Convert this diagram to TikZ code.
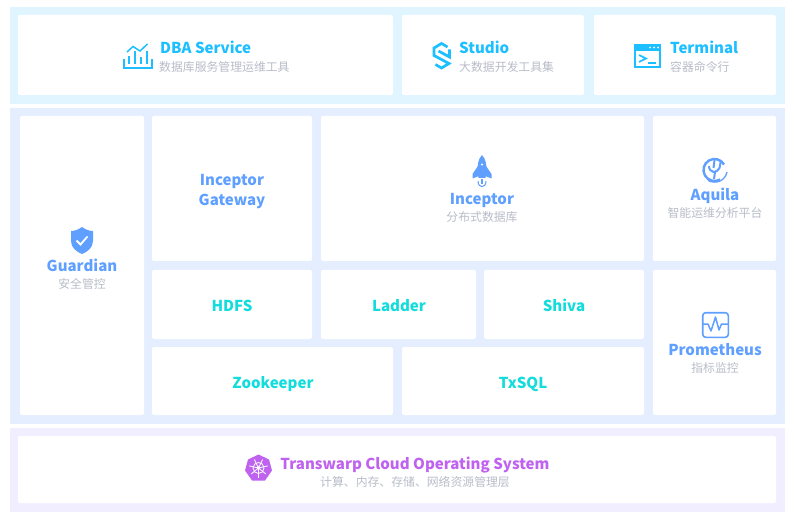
\documentclass[tikz,border=0pt]{standalone}
\usepackage{fontspec}
\setmainfont{Noto Sans CJK SC}
\usetikzlibrary{calc}
\definecolor{bandTop}{HTML}{E0F5FF}
\definecolor{bandMid}{HTML}{E4EEFF}
\definecolor{bandLow}{HTML}{F1EFFF}
\definecolor{skyText}{HTML}{1CBFFF}
\definecolor{blueText}{HTML}{5F9FFF}
\definecolor{tealText}{HTML}{12DCDC}
\definecolor{purpleText}{HTML}{BF62F0}
\definecolor{greyText}{HTML}{B9BDC9}
\tikzset{
 band/.style={fill=#1, draw=none},
 card/.style={fill=white, draw=none, rounded corners=2},
 title/.style={font=\fontsize{15.05}{15}\selectfont\bfseries, inner sep=0, text=#1, anchor=base},
 subtitle/.style={font=\fontsize{11.85}{12}\selectfont, inner sep=0, text=greyText, anchor=base},
}
\begin{document}
\begin{tikzpicture}[x=1pt,y=-1pt]
\useasboundingbox (0,0) rectangle (794,518);
% background bands
\fill[band=bandTop] (10,7) rectangle (785,104);
\fill[band=bandMid] (10,108) rectangle (785,424);
\fill[band=bandLow] (10,428) rectangle (785,512);
% cards
\foreach \xa/\ya/\xb/\yb in {18/15/393/95, 402/15/584/95, 594/15/776/95,
  20/116/144/415, 152/116/312/261, 321/116/644/261, 653/116/776/261,
  152/270/312/339, 321/270/476/339, 484/270/644/339, 653/270/776/415,
  152/347/393/415, 402/347/644/415, 18/436/776/503} {
 \fill[card] (\xa,\ya) rectangle (\xb,\yb);
}
% top row
\node[title=skyText, anchor=base west] (dba) at (160,54) {DBA Service};
\node[subtitle, anchor=base west] (dbasub) at (159,71.2) {数据库服务管理运维工具};
\node[title=skyText, anchor=base west] (studio) at (459,54) {Studio};
\node[subtitle, anchor=base west] (studiosub) at (459,71.2) {大数据开发工具集};
\node[title=skyText, anchor=base west] (terminal) at (670,54) {Terminal};
\node[subtitle, anchor=base west] (terminalsub) at (670,71.2) {容器命令行};
% middle block
\node[title=blueText] (guardian) at (82,271.3) {Guardian};
\node[subtitle] (guardiansub) at (82,288.2) {安全管控};
\node[title=blueText, anchor=center, align=center] (gateway) at (232,191.7) {Inceptor\\[5pt]Gateway};
\node[title=blueText] (inceptor) at (482,204.3) {Inceptor};
\node[subtitle] (inceptorsub) at (482,221.2) {分布式数据库};
\node[title=blueText] (aquila) at (715,200.3) {Aquila};
\node[subtitle] (aquilasub) at (715,217.2) {智能运维分析平台};
\node[title=blueText] (prometheus) at (715,355.3) {Prometheus};
\node[subtitle] (prometheussub) at (715,372.2) {指标监控};
\node[title=tealText] (hdfs) at (232,311.3) {HDFS};
\node[title=tealText] (ladder) at (399,311.3) {Ladder};
\node[title=tealText] (shiva) at (564,311.3) {Shiva};
\node[title=tealText] (zookeeper) at (273,388.3) {Zookeeper};
\node[title=tealText] (txsql) at (523,388.3) {TxSQL};
% bottom row
\node[title=purpleText] (tcos) at (415,469.3) {Transwarp Cloud Operating System};
\node[subtitle] (tcossub) at (415,486.2) {计算、内存、存储、网络资源管理层};
% dba icon
\draw[skyText, line width=2] (123.5,59) -- (123.5,67.8) -- (151.5,67.8) -- (151.5,59);
\foreach \x/\y in {129/56, 135/51, 141/57, 147/51} {
 \draw[skyText, line width=2] (\x,64) -- (\x,\y);
}
\draw[skyText, line width=1.5] (127,52) -- (133,46.5) -- (140,51) -- (147.5,44);
% studio icon
\draw[skyText, line width=2.7] (447.5,47) -- (441.5,43.5) -- (434,48) -- (434,55.5) -- (449,63.5) -- (441.5,68) -- (435.5,64.5);
\draw[skyText, line width=2.7] (449.5,49.5) -- (449.5,57) -- (438.5,51);
% terminal icon
\draw[skyText, line width=1.7] (634.8,44.8) rectangle (660.2,67.2);
\fill[skyText] (634,44) rectangle (661,51);
\foreach \x in {650,654,658} {
 \fill[white] (\x,47.5) circle (1);
}
\draw[skyText, line width=1.6] (639,55) -- (646,58.5) -- (639,62);
\draw[skyText, line width=1.6] (648,63) -- (656,63);
% rocket icon
\fill[blueText] (482,155) .. controls (478,159) and (477.5,165) .. (477.5,171) -- (478.5,178) -- (485.5,178) -- (486.5,171) .. controls (486.5,165) and (486,159) .. (482,155) -- cycle;
\fill[blueText] (478,166) -- (472.5,174) -- (472.5,178.5) -- (479,176) -- cycle;
\fill[blueText] (486,166) -- (491.5,174) -- (491.5,178.5) -- (485,176) -- cycle;
\fill[white] (482,164.5) circle (1.2);
\draw[blueText, line width=1] (478,181) .. controls (478,188.5) and (486,188.5) .. (486,181);
\draw[blueText, line width=1.5] (482,179.5) -- (482,184);
% aquila icon
\draw[blueText, line width=2.4] (714.5,170) ++(60:11) arc (60:330:11);
\draw[blueText, line width=1.3] (708,180.5) .. controls (716,184.5) and (725,181) .. (727,172);
\draw[blueText, line width=2] (709,166) .. controls (709,173) and (717,174) .. (719.5,168) -- (721,160);
\draw[blueText, line width=2] (715,172) -- (714,179);
\draw[blueText, line width=2] (714.5,160) -- (713.5,168);
% guardian icon
\fill[blueText] (82,227) .. controls (86,230) and (90,231) .. (93,231) -- (93,241) .. controls (93,248) and (87,252) .. (82,254) .. controls (77,252) and (71,248) .. (71,241) -- (71,231) .. controls (74,231) and (78,230) .. (82,227) -- cycle;
\draw[white, line width=1.8] (76.5,240.5) -- (80.5,244.5) -- (87.5,236.5);
% prometheus icon
\draw[blueText, line width=1.6, rounded corners=3] (702.7,312.7) rectangle (728.3,337.3);
\draw[blueText, line width=1.5, line join=round] (703,324) -- (708,324) -- (711,331) -- (715.5,317) -- (719,330) -- (721.5,324) -- (728,324);
% tcos icon
\fill[purpleText] (258.5,454.5) -- (269,459.5) -- (272,470.5) -- (265,480.5) -- (252,480.5) -- (245,470.5) -- (248,459.5) -- cycle;
\draw[white, line width=0.8] (258.5,468) circle (5.5);
\fill[white] (258.5,468) circle (1.8);
\foreach \a in {90,141,193,244,296,347,39} {
 \draw[white, line width=0.8] (258.5,468) -- ++(\a:9.5);
}
\end{tikzpicture}
\end{document}
